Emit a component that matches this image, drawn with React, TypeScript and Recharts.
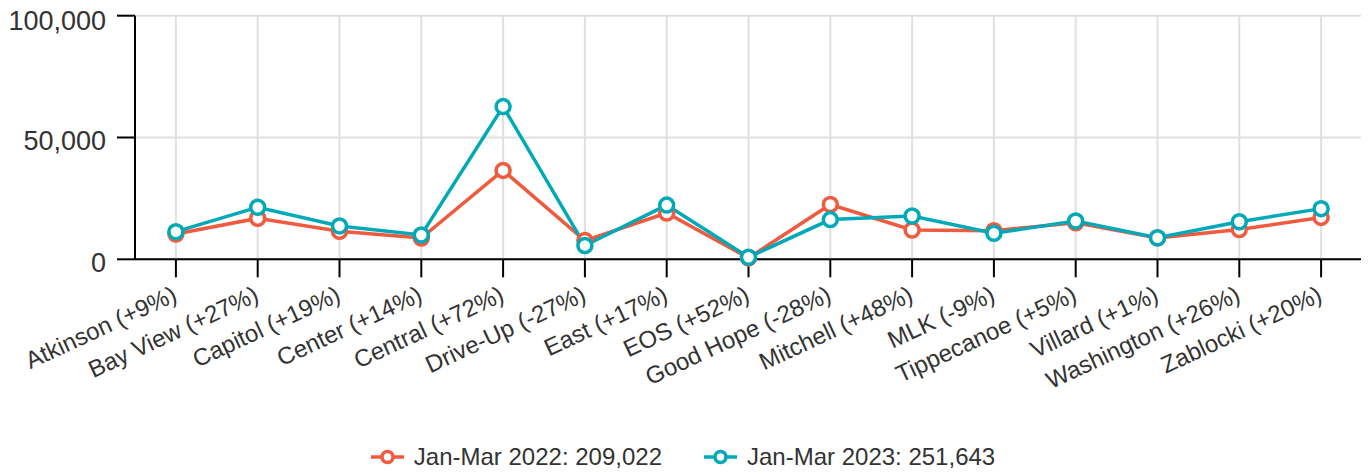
import React from "react";
import { LineChart, Line, XAxis, YAxis, CartesianGrid, Legend } from "recharts";

const categories = [
  "Atkinson (+9%)",
  "Bay View (+27%)",
  "Capitol (+19%)",
  "Center (+14%)",
  "Central (+72%)",
  "Drive-Up (-27%)",
  "East (+17%)",
  "EOS (+52%)",
  "Good Hope (-28%)",
  "Mitchell (+48%)",
  "MLK (-9%)",
  "Tippecanoe (+5%)",
  "Villard (+1%)",
  "Washington (+26%)",
  "Zablocki (+20%)",
];

const values2022 = [10400, 16830, 11500, 8750, 36500, 7700, 19000, 560, 22500, 12030, 11750, 15000, 8780, 12200, 17200];
const values2023 = [11340, 21370, 13700, 9980, 62700, 5650, 22250, 850, 16300, 17800, 10700, 15750, 8870, 15400, 20800];

const seriesNames = ["Jan-Mar 2022: 209,022", "Jan-Mar 2023: 251,643"];
const seriesColors = ["#f05a3e", "#00a9b8"];
const yTicks = [0, 50000, 100000];

const data = categories.map((c, i) => ({ name: c, a: values2022[i], b: values2023[i] }));

const FONT = "'Liberation Sans', Arial, Helvetica, sans-serif";

const XTick = (props: any) => {
  const { x, y, payload } = props;
  return (
    <text
      transform={`translate(${x + 2.5},${y + 23}) rotate(-25)`}
      textAnchor="end"
      fontSize={24}
      fill="#333"
      fontFamily={FONT}
    >
      {payload.value}
    </text>
  );
};

const YTick = (props: any) => {
  const { x, y, payload } = props;
  return (
    <text x={x} y={y + 12.5} textAnchor="end" fontSize={27} fill="#333" fontFamily={FONT}>
      {payload.value.toLocaleString("en-US")}
    </text>
  );
};

const LegendContent = () => (
  <div
    style={{
      display: "flex",
      justifyContent: "center",
      alignItems: "center",
      height: 40,
      paddingTop: 6,
      paddingRight: 4,
      boxSizing: "border-box",
      fontFamily: FONT,
      fontSize: 24,
      color: "#333",
    }}
  >
    {seriesNames.map((n, i) => (
      <div key={n} style={{ display: "flex", alignItems: "center", marginRight: i === 0 ? 42 : 0 }}>
        <svg width={33} height={16} style={{ display: "block" }}>
          <line x1={0} y1={8} x2={33} y2={8} stroke={seriesColors[i]} strokeWidth={3.5} />
          <circle cx={16.5} cy={8} r={5.5} fill="#fff" stroke={seriesColors[i]} strokeWidth={3.5} />
        </svg>
        <span style={{ marginLeft: 10, whiteSpace: "nowrap" }}>{n}</span>
      </div>
    ))}
  </div>
);

export default function App() {
  return (
    <LineChart
      width={1361}
      height={466}
      data={data}
      margin={{ top: 7.7, right: 7, left: 0, bottom: 0 }}
    >
      <CartesianGrid stroke="#e0e0e0" strokeWidth={2} />
      <XAxis
        dataKey="name"
        interval={0}
        height={174.7}
        padding={{ left: 40.9, right: 40.9 }}
        tickSize={18}
        tickMargin={0}
        tick={<XTick />}
        axisLine={{ stroke: "#000", strokeWidth: 2 }}
        tickLine={{ stroke: "#000", strokeWidth: 2 }}
      />
      <YAxis
        width={127}
        domain={[0, 100000]}
        ticks={yTicks}
        tickSize={18}
        tickMargin={11}
        tick={<YTick />}
        axisLine={{ stroke: "#000", strokeWidth: 2 }}
        tickLine={{ stroke: "#000", strokeWidth: 2 }}
      />
      <Legend verticalAlign="bottom" height={40} content={<LegendContent />} />
      <Line
        dataKey="a"
        name={seriesNames[0]}
        type="linear"
        stroke={seriesColors[0]}
        strokeWidth={3.5}
        dot={{ r: 7, fill: "#fff", stroke: seriesColors[0], strokeWidth: 3.5 }}
        activeDot={false}
        isAnimationActive={false}
      />
      <Line
        dataKey="b"
        name={seriesNames[1]}
        type="linear"
        stroke={seriesColors[1]}
        strokeWidth={3.5}
        dot={{ r: 7, fill: "#fff", stroke: seriesColors[1], strokeWidth: 3.5 }}
        activeDot={false}
        isAnimationActive={false}
      />
    </LineChart>
  );
}
